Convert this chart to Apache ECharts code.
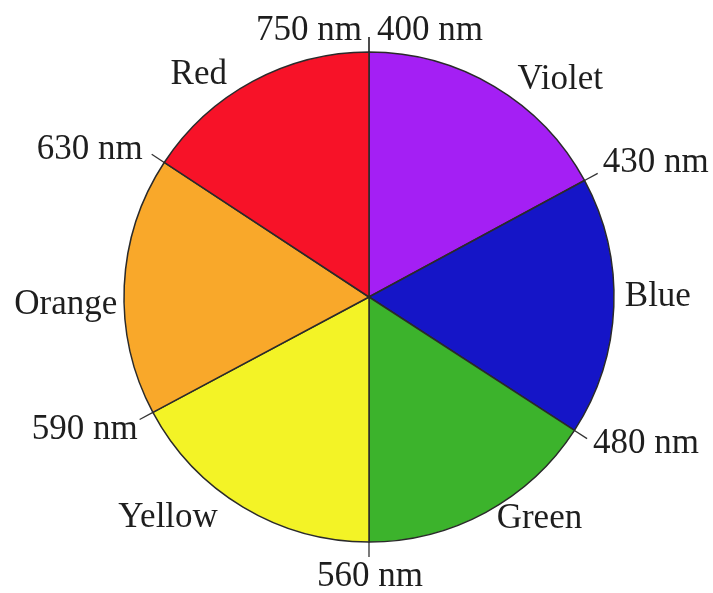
<!DOCTYPE html>
<html><head><meta charset="utf-8">
<script src="https://cdn.jsdelivr.net/npm/echarts@6/dist/echarts.min.js"></script>
<style>html,body{margin:0;padding:0;background:#fff}#chart{width:713px;height:593px}</style>
</head><body><div id="chart"></div>
<script>
// ---- data ----
const colorNames = ['Violet', 'Blue', 'Green', 'Yellow', 'Orange', 'Red'];
const sliceAngles = [61.6, 61.4, 57.0, 61.9, 61.4, 56.7];   // degrees of each wedge, clockwise from top
const boundaryLabels = ['400 nm', '430 nm', '480 nm', '560 nm', '590 nm', '630 nm', '750 nm'];

// ---- styles ----
const sliceColors = ['#a41ff4', '#1515c7', '#3cb32c', '#f3f326', '#f9a82a', '#f71228'];
const FONT = "'Liberation Serif', 'Times New Roman', serif";
const TEXT_COLOR = '#1e1e1e';
const CENTER = [369, 297];
const RADIUS = 245;
const nameNudge = {
  Violet: { dx: 13, dy: 2 },
  Blue:   { dx: -4, dy: -10 },
  Green:  { dx: 1,  dy: -2 },
  Yellow: { dx: -15, dy: 2 },
  Orange: { dx: 8,  dy: 19 },
  Red:    { dx: -16, dy: 2 }
};
const boundaryNudge = {
  '400 nm': { align: 'left',   dx: 8,  dy: -6 },
  '430 nm': { align: 'left',   dx: 5,  dy: -11 },
  '480 nm': { align: 'left',   dx: 6,  dy: 5 },
  '560 nm': { align: 'center', dx: 1,  dy: 20 },
  '590 nm': { align: 'right',  dx: -2, dy: 10 },
  '630 nm': { align: 'right',  dx: -9, dy: -4 },
  '750 nm': { align: 'right',  dx: -7, dy: -6 }
};

const chart = echarts.init(document.getElementById('chart'), null, { renderer: 'canvas' });

const wedgeData = colorNames.map((n, i) => ({
  name: n, value: sliceAngles[i], itemStyle: { color: sliceColors[i] }
}));

// boundary label series: zero-size items sit exactly on the wedge boundaries
const boundaryData = [];
boundaryLabels.forEach((b, i) => {
  boundaryData.push({ name: b, value: 0 });
  if (i < sliceAngles.length) {
    boundaryData.push({ name: '', value: sliceAngles[i], label: { show: false }, labelLine: { show: false } });
  }
});

function nameLayout(p) {
  const name = colorNames[p.dataIndex];
  const n = nameNudge[name];
  const r = p.labelRect;
  if (!n || !r) return {};
  let align = p.align;
  if (align !== 'left' && align !== 'right') {
    align = (r.x + r.width / 2 < chart.getWidth() / 2) ? 'right' : 'left';
  }
  const ax = align === 'right' ? r.x + r.width : r.x;
  const ay = r.y + r.height / 2;
  return { x: ax + n.dx, y: ay + n.dy, align: align, verticalAlign: 'middle' };
}

function boundaryLayout(p) {
  const item = boundaryData[p.dataIndex];
  if (!item || !item.name) return {};
  const n = boundaryNudge[item.name];
  const pts = p.labelLinePoints;
  if (!n || !pts) return {};
  const end = pts[pts.length - 1];
  return { x: end[0] + n.dx, y: end[1] + n.dy, align: n.align, verticalAlign: 'middle', labelLinePoints: pts };
}

chart.setOption({
  backgroundColor: '#ffffff',
  animation: false,
  series: [
    {
      type: 'pie',
      center: CENTER,
      radius: RADIUS,
      startAngle: 90,
      clockwise: true,
      avoidLabelOverlap: false,
      silent: true,
      data: wedgeData,
      itemStyle: { borderColor: '#2a2a2a', borderWidth: 1.5 },
      label: {
        show: true, position: 'outside', formatter: '{b}',
        fontFamily: FONT, fontSize: 35, color: TEXT_COLOR
      },
      labelLine: { show: false, length: 10, length2: 0 },
      labelLayout: nameLayout,
      emphasis: { disabled: true }
    },
    {
      type: 'pie',
      center: CENTER,
      radius: RADIUS,
      startAngle: 90,
      clockwise: true,
      avoidLabelOverlap: false,
      silent: true,
      data: boundaryData,
      itemStyle: { color: 'rgba(0,0,0,0)', borderWidth: 0 },
      label: {
        show: true, position: 'outside', formatter: '{b}',
        fontFamily: FONT, fontSize: 35, color: TEXT_COLOR
      },
      labelLine: { show: true, length: 15, length2: 0, lineStyle: { color: '#333', width: 1.3 } },
      labelLayout: boundaryLayout,
      emphasis: { disabled: true }
    }
  ]
});
</script>
</body></html>
